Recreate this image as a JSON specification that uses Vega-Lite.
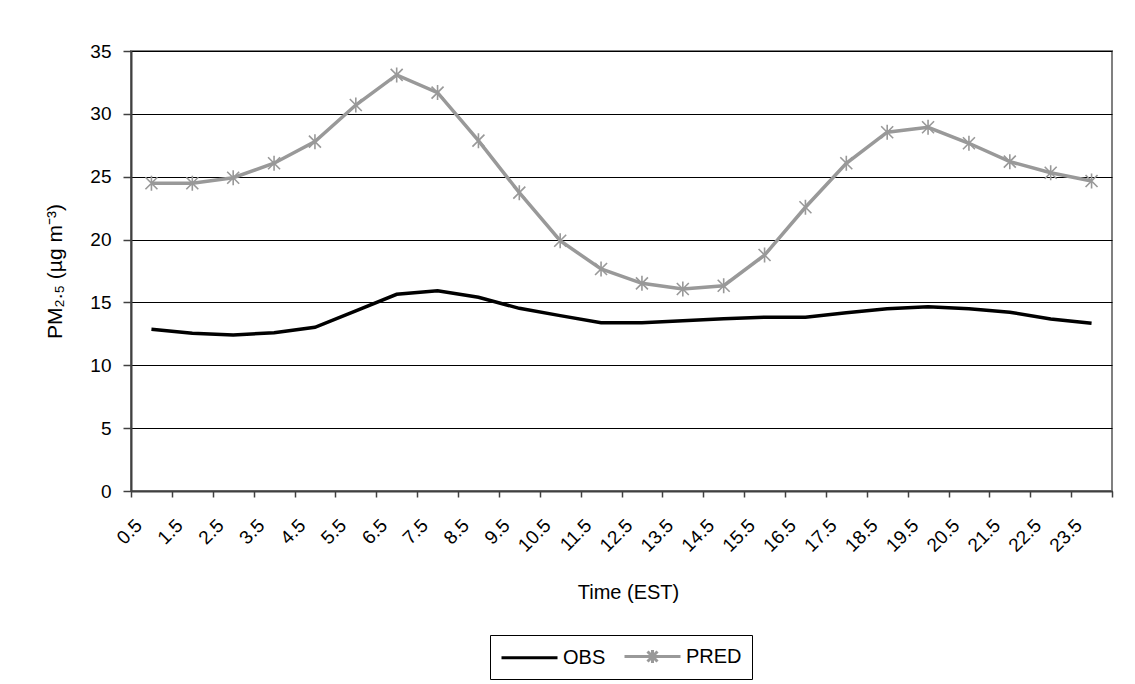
{
  "$schema": "https://vega.github.io/schema/vega-lite/v6.json",
  "autosize": {"type": "none"},
  "padding": {"left": 131, "top": 51, "right": 23, "bottom": 193},
  "width": 981,
  "height": 440,
  "background": "white",
  "config": {
    "font": "Liberation Sans",
    "view": {"stroke": "#808080", "strokeWidth": 2}
  },
  "data": {
    "values": [
      {"time": "0.5", "series": "OBS", "value": 12.86},
      {"time": "1.5", "series": "OBS", "value": 12.55},
      {"time": "2.5", "series": "OBS", "value": 12.41},
      {"time": "3.5", "series": "OBS", "value": 12.59},
      {"time": "4.5", "series": "OBS", "value": 13.02},
      {"time": "5.5", "series": "OBS", "value": 14.32},
      {"time": "6.5", "series": "OBS", "value": 15.65},
      {"time": "7.5", "series": "OBS", "value": 15.93},
      {"time": "8.5", "series": "OBS", "value": 15.41},
      {"time": "9.5", "series": "OBS", "value": 14.53},
      {"time": "10.5", "series": "OBS", "value": 13.95},
      {"time": "11.5", "series": "OBS", "value": 13.39},
      {"time": "12.5", "series": "OBS", "value": 13.39},
      {"time": "13.5", "series": "OBS", "value": 13.55},
      {"time": "14.5", "series": "OBS", "value": 13.71},
      {"time": "15.5", "series": "OBS", "value": 13.82},
      {"time": "16.5", "series": "OBS", "value": 13.82},
      {"time": "17.5", "series": "OBS", "value": 14.18},
      {"time": "18.5", "series": "OBS", "value": 14.5},
      {"time": "19.5", "series": "OBS", "value": 14.66},
      {"time": "20.5", "series": "OBS", "value": 14.5},
      {"time": "21.5", "series": "OBS", "value": 14.22},
      {"time": "22.5", "series": "OBS", "value": 13.68},
      {"time": "23.5", "series": "OBS", "value": 13.34},
      {"time": "0.5", "series": "PRED", "value": 24.48},
      {"time": "1.5", "series": "PRED", "value": 24.48},
      {"time": "2.5", "series": "PRED", "value": 24.92},
      {"time": "3.5", "series": "PRED", "value": 26.07},
      {"time": "4.5", "series": "PRED", "value": 27.79},
      {"time": "5.5", "series": "PRED", "value": 30.7},
      {"time": "6.5", "series": "PRED", "value": 33.1},
      {"time": "7.5", "series": "PRED", "value": 31.69},
      {"time": "8.5", "series": "PRED", "value": 27.87},
      {"time": "9.5", "series": "PRED", "value": 23.73},
      {"time": "10.5", "series": "PRED", "value": 19.91},
      {"time": "11.5", "series": "PRED", "value": 17.66},
      {"time": "12.5", "series": "PRED", "value": 16.52},
      {"time": "13.5", "series": "PRED", "value": 16.07},
      {"time": "14.5", "series": "PRED", "value": 16.33},
      {"time": "15.5", "series": "PRED", "value": 18.77},
      {"time": "16.5", "series": "PRED", "value": 22.57},
      {"time": "17.5", "series": "PRED", "value": 26.07},
      {"time": "18.5", "series": "PRED", "value": 28.54},
      {"time": "19.5", "series": "PRED", "value": 28.93},
      {"time": "20.5", "series": "PRED", "value": 27.66},
      {"time": "21.5", "series": "PRED", "value": 26.2},
      {"time": "22.5", "series": "PRED", "value": 25.32},
      {"time": "23.5", "series": "PRED", "value": 24.66}
    ]
  },
  "encoding": {
    "x": {
      "field": "time",
      "type": "ordinal",
      "sort": null,
      "bandPosition": 0.5,
      "scale": {"type": "band", "paddingInner": 0, "paddingOuter": 0},
      "axis": {
        "tickBand": "extent",
        "grid": false,
        "labelAngle": -45,
        "labelAlign": "right",
        "labelBaseline": "middle",
        "labelOffset": -13,
        "labelPadding": 25,
        "labelFontSize": 19,
        "labelColor": "black",
        "tickSize": 6,
        "tickColor": "#404040",
        "tickWidth": 1.5,
        "domainColor": "#404040",
        "domainWidth": 2,
        "title": "Time (EST)",
        "titleFontSize": 20,
        "titleFontWeight": "normal",
        "titleColor": "black",
        "titleX": 497,
        "titleY": 107,
        "titleAlign": "center",
        "titleBaseline": "alphabetic"
      }
    },
    "y": {
      "field": "value",
      "type": "quantitative",
      "scale": {"domain": [0, 35], "nice": false, "zero": true},
      "axis": {
        "values": [0, 5, 10, 15, 20, 25, 30, 35],
        "grid": true,
        "gridColor": "black",
        "gridWidth": 1,
        "gridOpacity": 1,
        "tickSize": 8,
        "tickColor": "#404040",
        "tickWidth": 1.5,
        "domainColor": "#404040",
        "domainWidth": 2,
        "labelPadding": 12,
        "labelFontSize": 19,
        "labelColor": "black",
        "title": "PM₂.₅ (µg m⁻³)",
        "titleFontSize": 21,
        "titleFontWeight": "normal",
        "titleColor": "black",
        "titlePadding": 24
      }
    },
    "color": {
      "field": "series",
      "type": "nominal",
      "scale": {"domain": ["OBS", "PRED"], "range": ["#000000", "#999999"]},
      "legend": {
        "orient": "none",
        "legendX": 359,
        "legendY": 584,
        "direction": "horizontal",
        "title": null,
        "strokeColor": "black",
        "fillColor": "white",
        "padding": 10,
        "symbolSize": 400,
        "symbolOffset": 18,
        "labelOffset": 22,
        "columnPadding": 12,
        "labelFontSize": 20,
        "labelColor": "black",
        "symbolStrokeWidth": 3,
        "encode": {
          "symbols": {
            "update": {
              "shape": {"signal": "datum.value === 'PRED' ? 'M-2.8,0L2.8,0M-0.5,-0.5L0.5,0.5M-0.5,0.5L0.5,-0.5M0,-0.65L0,0.65' : 'M-2.8,0L2.8,0'"},
              "stroke": {"signal": "datum.value === 'PRED' ? '#999999' : '#000000'"},
              "fill": {"value": "transparent"},
              "strokeWidth": {"value": 3}
            }
          }
        }
      }
    }
  },
  "layer": [
    {
      "mark": {"type": "line", "strokeWidth": 3.5}
    },
    {
      "transform": [{"filter": "datum.series === 'PRED'"}],
      "mark": {
        "type": "point",
        "shape": "M-1,-1L1,1M-1,1L1,-1M0,-1.25L0,1.25",
        "size": 144,
        "filled": false,
        "strokeWidth": 1.6,
        "opacity": 1
      }
    }
  ]
}
